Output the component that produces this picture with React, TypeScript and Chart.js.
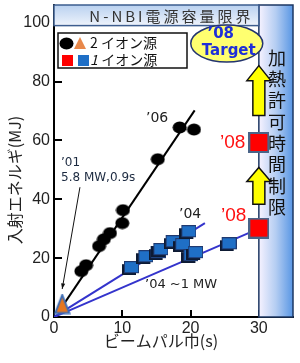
import { useEffect, useRef } from 'react';
import { Chart, registerables } from 'chart.js';
Chart.register(...registerables);

// ---- data ----
const xTicks = [0, 10, 20, 30];
const yTicks = [0, 20, 40, 60, 80, 100];

// 2 ion sources ('06)
const twoSrcX = [4.0, 4.7, 6.6, 7.3, 8.2, 10.0, 10.1, 15.2, 18.4, 20.5];
const twoSrcY = [15.6, 17.6, 24.1, 26.4, 28.5, 31.9, 36.3, 53.6, 64.4, 63.7];
// 1 ion source ('04)
const oneSrcX = [11.2, 13.3, 15.1, 15.5, 17.3, 18.7, 19.6, 19.9, 20.6, 25.5];
const oneSrcY = [16.6, 20.3, 21.7, 22.7, 25.4, 24.4, 28.8, 20.7, 21.7, 24.7];
// '08 plan (1 ion source)
const plan08X = [30, 30];
const plan08Y = [30.2, 59.3];
// '01 (2 ion sources)
const y01X = [1.2];
const y01Y = [4.4];
// fitted lines
const line06X = [0.6, 20.6];
const line06Y = [1.5, 70.2];
const line04X = [0, 22.1];
const line04Y = [0, 31.9];
const line1MWX = [0, 30];
const line1MWY = [0, 30];

// annotation anchors (data units)
const PANEL_START = 30;
const BANNER_BOTTOM = 99;
const targetCenter = { x: 25.3, y: 92.9 };
const arrowUpper = { tip: 85.4, head: 80.3, bottom: 68.5 };
const arrowLower = { tip: 50.8, head: 46.0, bottom: 38.3 };
const note01Line = { x0: 3.8, y0: 44.1, x1: 1.2, y1: 9.5 };

const pts = (xs: number[], ys: number[]) => xs.map((x, i) => ({ x, y: ys[i] }));

function makeCanvas(w: number, h: number, draw: (c: CanvasRenderingContext2D) => void) {
  const c = document.createElement('canvas');
  c.width = w;
  c.height = h;
  const ctx = c.getContext('2d')!;
  draw(ctx);
  return c;
}

const CJK = '"Noto Sans CJK JP", sans-serif';
const LAT = '"DejaVu Sans", sans-serif';
const ARIAL = '"Liberation Sans", Arial, sans-serif';

function upArrow(ctx: CanvasRenderingContext2D, cx: number, tipY: number, headY: number, botY: number) {
  const sw = 12, hw = 24;
  ctx.beginPath();
  ctx.moveTo(cx, tipY);
  ctx.lineTo(cx + hw / 2, headY);
  ctx.lineTo(cx + sw / 2, headY);
  ctx.lineTo(cx + sw / 2, botY);
  ctx.lineTo(cx - sw / 2, botY);
  ctx.lineTo(cx - sw / 2, headY);
  ctx.lineTo(cx - hw / 2, headY);
  ctx.closePath();
  ctx.fillStyle = '#ffff00';
  ctx.fill();
  ctx.strokeStyle = '#111';
  ctx.lineWidth = 1.5;
  ctx.stroke();
}

export default function App() {
  const ref = useRef<HTMLCanvasElement>(null);
  useEffect(() => {
    const circleImg = makeCanvas(15, 13, (c) => {
      c.fillStyle = '#000';
      c.beginPath();
      c.ellipse(7.5, 6.5, 7, 6, 0, 0, Math.PI * 2);
      c.fill();
    });
    const blueSq = makeCanvas(17, 14, (c) => {
      c.fillStyle = '#0d1a33';
      c.fillRect(0, 3, 14, 11);
      c.fillStyle = '#1f6fc6';
      c.fillRect(2.5, 0.5, 14, 11);
      c.strokeStyle = '#203a70';
      c.lineWidth = 1;
      c.strokeRect(2.5, 0.5, 14, 11);
    });
    const redSq = makeCanvas(21, 21, (c) => {
      c.fillStyle = '#ff0000';
      c.fillRect(1, 1, 19, 19);
      c.strokeStyle = '#4a6488';
      c.lineWidth = 2;
      c.strokeRect(1, 1, 19, 19);
    });
    const tri = makeCanvas(17, 21, (c) => {
      c.beginPath();
      c.moveTo(8.5, 1.5);
      c.lineTo(15.5, 19.5);
      c.lineTo(1.5, 19.5);
      c.closePath();
      c.fillStyle = '#e5761f';
      c.fill();
      c.strokeStyle = '#3c6cb4';
      c.lineWidth = 2;
      c.stroke();
    });

    const decor = {
      id: 'decor',
      beforeDatasetsDraw(chart: any) {
        const { ctx, chartArea: a, scales } = chart;
        const x = scales.x, y = scales.y;
        const px30 = x.getPixelForValue(PANEL_START);
        const pxR = x.getPixelForValue(35);
        ctx.save();
        // right panel
        const g = ctx.createLinearGradient(px30, 0, pxR, 0);
        g.addColorStop(0, '#f6f2ff');
        g.addColorStop(0.5, '#b4cdf2');
        g.addColorStop(1, '#5896e4');
        ctx.fillStyle = g;
        ctx.fillRect(px30, a.top, pxR - px30, a.bottom - a.top);
        ctx.strokeStyle = '#1d3763';
        ctx.lineWidth = 1.5;
        ctx.strokeRect(px30, a.top, pxR - px30, a.bottom - a.top);
        // banner
        const px0 = x.getPixelForValue(0);
        const by = y.getPixelForValue(BANNER_BOTTOM);
        const g2 = ctx.createLinearGradient(0, a.top, 0, by);
        g2.addColorStop(0, '#b9d1f0');
        g2.addColorStop(1, '#eef3fb');
        ctx.fillStyle = g2;
        ctx.fillRect(px0, a.top, px30 - px0, by - a.top);
        ctx.strokeStyle = '#3d5d8f';
        ctx.lineWidth = 1.5;
        ctx.strokeRect(px0, a.top, px30 - px0, by - a.top);
        ctx.fillStyle = '#333';
        ctx.font = `15px ${CJK}`;
        ctx.textAlign = 'center';
        ctx.textBaseline = 'middle';
        (ctx as any).letterSpacing = '3px';
        ctx.fillText('N-NBI電源容量限界', (px0 + px30) / 2 + 15, (a.top + by) / 2 + 1);
        (ctx as any).letterSpacing = '0px';
        ctx.restore();
      },
      afterDatasetsDraw(chart: any) {
        const { ctx, scales } = chart;
        const x = scales.x, y = scales.y;
        const X = (v: number) => x.getPixelForValue(v);
        const Y = (v: number) => y.getPixelForValue(v);
        ctx.save();
        // arrows
        upArrow(ctx, X(30), Y(arrowUpper.tip), Y(arrowUpper.head), Y(arrowUpper.bottom));
        upArrow(ctx, X(30), Y(arrowLower.tip), Y(arrowLower.head), Y(arrowLower.bottom));
        // target ellipse
        ctx.beginPath();
        ctx.ellipse(X(targetCenter.x), Y(targetCenter.y), 36, 18.5, 0, 0, Math.PI * 2);
        ctx.fillStyle = '#ffff70';
        ctx.fill();
        ctx.strokeStyle = '#23346e';
        ctx.lineWidth = 1.5;
        ctx.stroke();
        ctx.fillStyle = '#1f2fd8';
        ctx.font = `bold 15px ${LAT}`;
        ctx.textAlign = 'center';
        ctx.textBaseline = 'middle';
        ctx.fillText('’08', X(targetCenter.x) - 6, Y(targetCenter.y) - 9);
        ctx.fillText('Target', X(targetCenter.x) + 2, Y(targetCenter.y) + 8);

        // vertical text
        ctx.fillStyle = '#111';
        ctx.font = `18px ${CJK}`;
        const vt = '加熱許可時間制限';
        for (let i = 0; i < vt.length; i++) {
          ctx.fillText(vt[i], (X(30) + X(35)) / 2 + 1, 58 + i * 21.3);
        }

        // '01 annotation line with arrow
        const sx = X(note01Line.x0), sy = Y(note01Line.y0), ex = X(note01Line.x1), ey = Y(note01Line.y1);
        ctx.strokeStyle = '#111';
        ctx.lineWidth = 1;
        ctx.beginPath();
        ctx.moveTo(sx, sy);
        ctx.lineTo(ex, ey);
        ctx.stroke();
        const ang = Math.atan2(ey - sy, ex - sx);
        ctx.beginPath();
        ctx.moveTo(ex, ey);
        ctx.lineTo(ex - 6 * Math.cos(ang - 0.35), ey - 6 * Math.sin(ang - 0.35));
        ctx.lineTo(ex - 6 * Math.cos(ang + 0.35), ey - 6 * Math.sin(ang + 0.35));
        ctx.closePath();
        ctx.fillStyle = '#111';
        ctx.fill();

        // text annotations
        ctx.textAlign = 'left';
        ctx.fillStyle = '#222';
        ctx.font = `14px ${LAT}`;
        ctx.fillText('’06', 146, 118);
        ctx.fillText('’04', 179, 214);
        ctx.font = `13px ${LAT}`;
        ctx.fillText('’04 ~1 MW', 145, 285);
        ctx.font = `12px ${LAT}`;
        ctx.fillStyle = '#1c2a40';
        ctx.fillText('’01', 61, 163);
        ctx.fillText('5.8 MW,0.9s', 61, 178);
        ctx.fillStyle = '#ff1010';
        ctx.font = `19px ${ARIAL}`;
        ctx.fillText('’08', 220, 143);
        ctx.fillText('’08', 221, 216);

        // legend box
        ctx.fillStyle = '#fff';
        ctx.fillRect(58, 33, 129, 35);
        ctx.strokeStyle = '#111';
        ctx.lineWidth = 1.5;
        ctx.strokeRect(58, 33, 129, 35);
        ctx.drawImage(circleImg, 59, 37);
        ctx.beginPath();
        ctx.moveTo(80, 37);
        ctx.lineTo(86, 49);
        ctx.lineTo(74, 49);
        ctx.closePath();
        ctx.fillStyle = '#e8884a';
        ctx.fill();
        ctx.fillStyle = '#ff0000';
        ctx.fillRect(62, 55, 11, 11);
        ctx.fillStyle = '#1f6fc6';
        ctx.fillRect(78, 55, 11, 11);
        ctx.fillStyle = '#111';
        ctx.font = `14px ${CJK}`;
        ctx.fillText('2 イオン源', 90, 43);
        ctx.font = `italic 14px ${CJK}`;
        ctx.fillText('1', 90, 60);
        ctx.font = `14px ${CJK}`;
        ctx.fillText(' イオン源', 98, 60);

        // axis titles
        ctx.fillStyle = '#222';
        ctx.font = `16px ${CJK}`;
        ctx.textAlign = 'center';
        ctx.fillText('ビームパル巾(s)', 161, 341);
        ctx.translate(15, 180);
        ctx.rotate(-Math.PI / 2);
        ctx.fillText('入射エネルギ(MJ)', 0, 0);
        ctx.restore();
      },
    };

    const lineDs = (xs: number[], ys: number[], color: string) => ({
      data: pts(xs, ys),
      showLine: true,
      borderColor: color,
      borderWidth: 2,
      pointRadius: 0,
      order: 10,
    });

    const chart = new Chart(ref.current!, {
      type: 'scatter',
      data: {
        datasets: [
          { data: pts(plan08X, plan08Y), pointStyle: redSq, order: 1 } as any,
          { data: pts(y01X, y01Y), pointStyle: tri, order: 2 },
          { data: pts(twoSrcX, twoSrcY), pointStyle: circleImg, order: 3 },
          { data: pts(oneSrcX, oneSrcY), pointStyle: blueSq, order: 4 },
          lineDs(line06X, line06Y, '#000'),
          lineDs(line04X, line04Y, '#3434cc'),
          lineDs(line1MWX, line1MWY, '#3434cc'),
        ],
      },
      options: {
        animation: false,
        responsive: false,
        events: [],
        layout: { padding: { top: 5, right: 7, left: 0, bottom: 0 }, autoPadding: false },
        plugins: { legend: { display: false }, tooltip: { enabled: false } },
        scales: {
          x: {
            type: 'linear',
            min: 0,
            max: 35,
            afterBuildTicks: (s: any) => { s.ticks = xTicks.map((v) => ({ value: v })); },
            afterFit: (s: any) => { s.height = 46; s.paddingLeft = 0; s.paddingRight = 0; },
            grid: { drawOnChartArea: false, tickLength: -7, color: '#000', lineWidth: 2 },
            border: { color: '#000', width: 2 },
            ticks: { padding: 9, color: '#222', font: { family: ARIAL, size: 16 }, maxRotation: 0 },
          },
          y: {
            type: 'linear',
            min: 0,
            max: 106,
            afterBuildTicks: (s: any) => { s.ticks = yTicks.map((v) => ({ value: v })); },
            afterFit: (s: any) => { s.width = 54; s.paddingTop = 0; s.paddingBottom = 0; },
            grid: { drawOnChartArea: false, tickLength: -8, color: '#000', lineWidth: 2 },
            border: { color: '#000', width: 2 },
            ticks: { padding: 12, color: '#222', font: { family: ARIAL, size: 16 } },
          },
        },
      },
      plugins: [decor],
    });
    return () => chart.destroy();
  }, []);
  return (
    <div style={{ position: 'fixed', left: 0, top: 0, width: 300, height: 363, background: '#fff' }}>
      <canvas ref={ref} width={300} height={363} style={{ width: 300, height: 363 }} />
    </div>
  );
}
